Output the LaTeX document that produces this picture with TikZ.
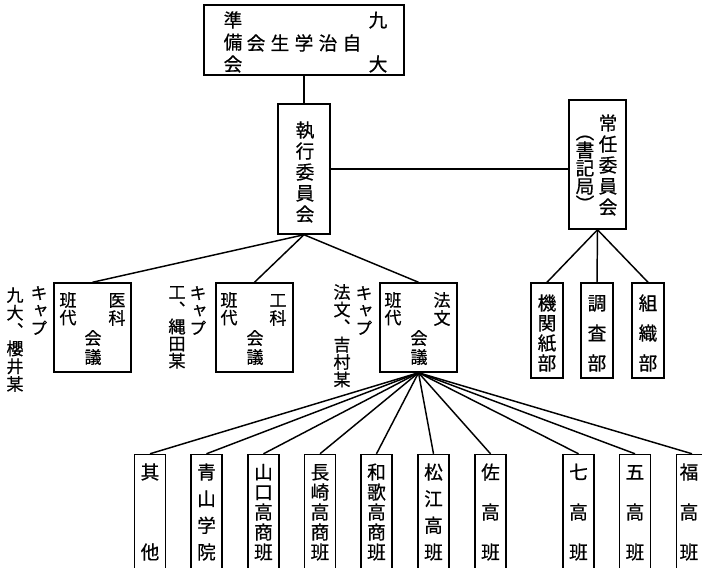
\documentclass[tikz,border=0pt]{standalone}
\usepackage{fontspec}
\newfontfamily\cjk[RawFeature=+vert,FakeBold=0.6]{Noto Sans CJK JP}
\newcommand\vcol[5]{%
  \foreach \c [count=\i] in {#5} {\node[ch] (#1\i) at (#2,{#3+(\i-1)*#4}) {\c};}}
\newcommand\vcols[5]{%
  \foreach \c [count=\i] in {#5} {\node[chs] (#1\i) at (#2,{#3+(\i-1)*#4}) {\c};}}
\newcommand\bx[5]{\node[box,minimum width={(#4)*0.75pt},minimum height={(#5)*0.75pt}] (#1) at (#2,#3) {};}
\begin{document}
\begin{tikzpicture}[x=0.75pt,y=-0.75pt,
  ch/.style={font=\cjk\fontsize{14}{14}\selectfont,inner sep=0pt,text height=12.32pt,text depth=1.68pt},
  chs/.style={font=\cjk\fontsize{12.8}{12.8}\selectfont,inner sep=0pt,text height=11.26pt,text depth=1.54pt},
  box/.style={draw,line width=1.1pt,inner sep=0pt},
  conn/.style={line width=1.1pt}]
\useasboundingbox (0,0) rectangle (702,567);
\clip (0,0) rectangle (702,567);
% top box
\bx{top}{304}{40}{200}{70}
\vcol{tl}{233}{20}{22}{準,備,会}
\foreach \c [count=\i] in {会,生,学,治,自} {\node[ch] (th\i) at ({256+(\i-1)*24},43) {\c};}
\node[ch] (tr1) at (378,20) {九};
\node[ch] (tr2) at (378,64) {大};
% executive committee
\bx{exec}{304}{169}{52}{130}
\vcol{ex}{305}{130}{21}{執,行,委,員,会}
% standing committee
\bx{jonin}{597.5}{164.5}{57}{129}
\vcol{jr}{608}{123}{21}{常,任,委,員,会}
\vcol{jl}{585}{132}{18}{︵,書,記,局,︶}
% departments
\bx{kikan}{547}{330.5}{32}{95}
\vcol{kk}{547}{303}{20}{機,関,紙,部}
\bx{chosa}{597}{330.5}{32}{95}
\vcol{cs}{597}{303}{30}{調,査,部}
\bx{soshiki}{648}{330.5}{32}{95}
\vcol{so}{648}{303}{30}{組,織,部}
% level 2 boxes
\bx{ika}{92.5}{327.5}{77}{89}
\vcols{ikl}{68}{300}{17.5}{班,代}
\vcols{ikr}{117}{300}{18}{医,科}
\vcols{ikc}{93}{338}{19}{会,議}
\bx{koka}{254.5}{327.5}{77}{89}
\vcols{kol}{229}{300}{17.5}{班,代}
\vcols{kor}{278}{300}{18}{工,科}
\vcols{koc}{255}{338}{19}{会,議}
\bx{fabun}{418.5}{327.5}{77}{89}
\vcols{fal}{393}{300}{17.5}{班,代}
\vcols{far}{442}{300}{18}{法,文}
\vcols{fac}{419}{338}{19}{会,議}
% captain labels
\vcols{c1}{39}{293}{17.5}{キ,ャ,プ}
\vcols{n1}{15}{295}{17.8}{九,大,︑,櫻,井,某}
\vcols{c2}{198}{293}{17.5}{キ,ャ,プ}
\vcols{n2}{177}{292}{17.2}{工,︑,縄,田,某}
\vcols{c3}{364}{293}{17.5}{キ,ャ,プ}
\vcols{n3}{342}{292}{17.5}{法,文,︑,吉,村,某}
% bottom boxes
\bx{b1}{150}{522}{31}{135}
\vcol{bt1}{150}{472}{80}{其,他}
\bx{b2}{206.5}{522}{31}{135}
\vcol{bt2}{206.5}{472}{26.67}{青,山,学,院}
\bx{b3}{263.5}{522}{31}{135}
\vcol{bt3}{263.5}{472}{20}{山,口,高,商,班}
\bx{b4}{320}{522}{31}{135}
\vcol{bt4}{320}{472}{20}{長,崎,高,商,班}
\bx{b5}{376.5}{522}{31}{135}
\vcol{bt5}{376.5}{472}{20}{和,歌,高,商,班}
\bx{b6}{433.5}{522}{31}{135}
\vcol{bt6}{433.5}{472}{26.67}{松,江,高,班}
\bx{b7}{490.5}{522}{31}{135}
\vcol{bt7}{490.5}{472}{40}{佐,高,班}
\bx{b8}{578.5}{522}{31}{135}
\vcol{bt8}{578.5}{472}{40}{七,高,班}
\bx{b9}{635}{522}{31}{135}
\vcol{bt9}{635}{472}{40}{五,高,班}
\bx{b10}{692}{522}{31}{135}
\vcol{bt10}{689}{472}{40}{福,高,班}
% connectors
\draw[conn] (top.south) -- (exec.north);
\draw[conn] (exec.east) -- (exec.east -| jonin.west);
\foreach \t in {kikan,chosa,soshiki} \draw[conn] (jonin.south) -- (\t.north);
\foreach \t in {ika,koka,fabun} \draw[conn] (exec.south) -- (\t.north);
\foreach \t in {b1,b2,b3,b4,b5,b6,b7,b8,b9,b10} \draw[conn] (fabun.south) -- (\t.north);
\end{tikzpicture}
\end{document}
